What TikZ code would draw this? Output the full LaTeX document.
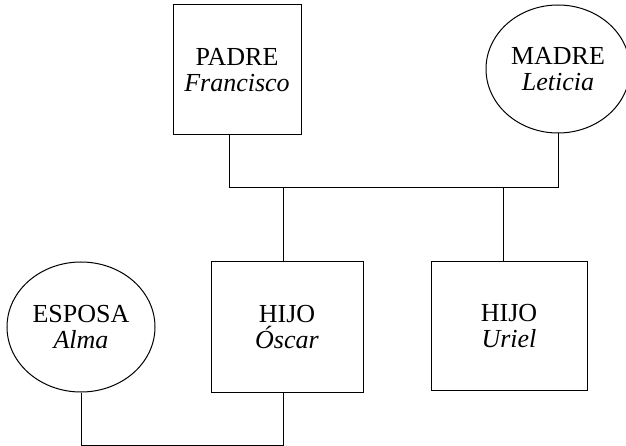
\documentclass[tikz,border=0pt]{standalone}
\usepackage{fontspec}
\setmainfont{Liberation Serif}
\usetikzlibrary{shapes.geometric}
\begin{document}
\begin{tikzpicture}[x=1pt,y=-1pt,
  line width=1pt,
  person/.style={draw, align=center, inner sep=0pt,
    font=\fontsize{26}{26}\selectfont},
  malebox/.style={person, rectangle},
  femaleell/.style={person, ellipse}]
\useasboundingbox (0,0) rectangle (626,446);
\node[malebox, minimum width=128pt, minimum height=130pt] (padre) at (237,70) {PADRE\\\textit{Francisco}};
\node[femaleell, minimum width=144pt, minimum height=128pt] (madre) at (558,69) {MADRE\\\textit{Leticia}};
\node[femaleell, minimum width=148pt, minimum height=130pt] (esposa) at (81,327) {ESPOSA\\\textit{Alma}};
\node[malebox, minimum width=152pt, minimum height=130pt] (oscar) at (287,327) {HIJO\\\textit{Óscar}};
\node[malebox, minimum width=156pt, minimum height=128pt] (uriel) at (509,326) {HIJO\\\textit{Uriel}};
\coordinate (j1) at (229,188);
\coordinate (j2) at (558,188);
\coordinate (d1) at (283,188);
\coordinate (d2) at (503,188);
\coordinate (b) at (283,445);
\draw (padre.south -| j1) -- (j1) -- (j2) -- (madre.south);
\draw (d1) -- (d1 |- oscar.north);
\draw (d2) -- (d2 |- uriel.north);
\draw (esposa.south) |- (b) -- (b |- oscar.south);
\end{tikzpicture}
\end{document}
